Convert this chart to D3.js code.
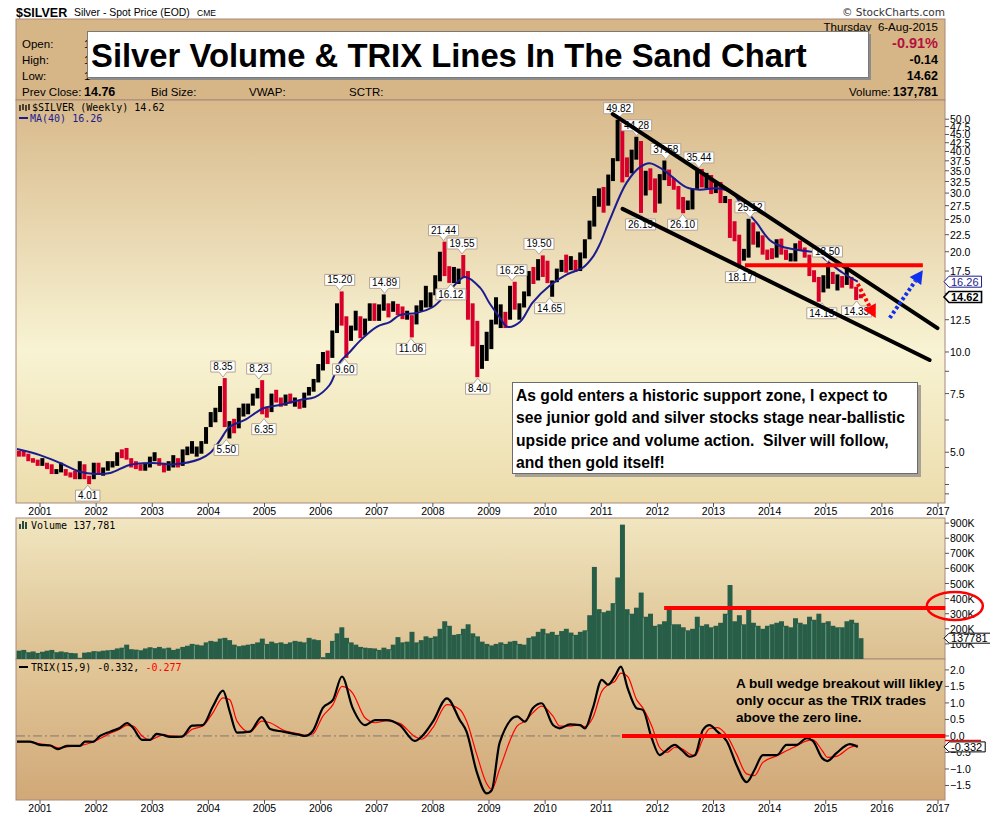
<!DOCTYPE html>
<html>
<head>
<meta charset="utf-8">
<script src="https://cdnjs.cloudflare.com/ajax/libs/d3/7.8.5/d3.min.js"></script>
<style>
body{margin:0;background:#fff;}
svg text{font-family:Arial,"Liberation Sans",sans-serif;}
.mono{font-family:"DejaVu Sans Mono",monospace;font-size:10px;}
</style>
</head>
<body>
<svg></svg>
<script>
var startYear = 2000, startMonth = 8;

var highs = [
  5.05,5.05,4.95,4.80,4.75,
  4.80,4.65,4.60,4.45,4.65,4.45,4.35,4.40,4.70,4.60,4.25,4.65,
  4.65,4.50,4.70,4.70,5.00,5.10,5.15,4.80,4.70,4.60,4.65,4.85,
  5.00,4.80,4.65,4.70,4.90,4.80,5.10,5.20,5.40,5.20,5.40,5.95,
  6.60,6.80,7.90,8.35,6.20,6.30,6.80,7.00,7.00,7.50,7.80,8.23,
  6.85,7.50,7.70,7.30,7.45,7.50,7.30,7.15,7.55,7.85,8.30,9.20,
  10.00,10.10,11.60,14.00,15.20,12.80,12.00,13.30,12.80,12.60,14.00,14.00,
  13.90,14.89,14.00,14.20,13.95,13.70,13.30,12.90,13.80,14.30,15.80,15.10,
  17.00,20.00,21.44,18.10,18.00,17.80,19.55,17.50,14.00,12.40,10.50,11.50,
  12.50,14.60,13.90,13.20,15.80,16.25,14.00,15.20,17.50,18.00,19.00,19.50,
  18.80,16.40,17.80,18.90,19.60,19.40,18.90,19.90,21.80,24.80,29.40,31.00,
  31.30,34.10,38.20,49.82,48.70,38.40,40.50,44.28,43.00,35.00,35.60,33.20,
  34.20,37.58,35.30,33.30,31.50,29.20,28.50,31.00,35.00,35.44,34.50,34.00,
  32.50,32.40,29.40,28.80,24.70,22.50,20.40,25.12,24.50,23.00,22.40,20.30,
  20.50,21.80,21.90,20.30,19.80,21.20,21.60,20.60,19.60,17.60,16.80,17.00,
  18.50,17.40,17.10,16.90,17.80,16.80,15.70,14.90
];
var lows = [
  4.85,4.85,4.70,4.65,4.55,
  4.55,4.45,4.30,4.30,4.35,4.25,4.20,4.15,4.15,4.15,4.01,4.15,
  4.30,4.25,4.40,4.50,4.55,4.80,4.75,4.50,4.45,4.40,4.40,4.50,
  4.70,4.55,4.35,4.40,4.50,4.50,4.55,4.90,4.95,4.85,4.95,5.30,
  5.95,6.15,6.60,5.95,5.50,5.70,5.90,6.40,6.50,6.90,7.25,6.50,
  6.35,6.60,7.05,6.85,6.90,7.00,6.85,6.75,6.80,7.40,7.60,8.10,
  8.80,9.20,9.60,11.40,12.00,9.60,10.80,11.60,11.00,11.20,12.40,12.40,
  12.40,13.30,12.70,13.20,12.90,12.55,12.50,11.06,12.10,13.25,13.60,13.60,
  14.80,16.30,16.90,16.12,16.10,16.00,16.70,12.50,10.40,8.40,8.90,9.40,
  10.20,12.10,11.80,11.80,12.50,13.40,12.50,13.60,14.70,16.00,16.40,16.80,
  16.10,14.65,16.20,17.40,17.30,17.60,17.40,17.50,19.10,21.80,23.80,27.30,
  26.20,27.50,32.60,37.40,32.30,33.50,34.40,37.80,26.15,29.50,30.60,26.20,
  27.90,32.80,31.50,30.70,26.80,26.10,26.70,26.80,30.90,31.20,31.00,29.80,
  30.00,28.00,28.00,22.00,21.50,18.17,18.80,19.20,21.00,20.60,19.60,18.90,
  19.00,19.20,19.60,18.90,18.70,18.70,20.20,19.20,16.90,16.20,14.15,15.10,
  15.50,16.00,15.30,15.60,15.90,15.50,14.33,14.50
];
var closes = [
  4.95,4.90,4.75,4.70,4.60,
  4.60,4.45,4.35,4.38,4.40,4.30,4.25,4.20,4.60,4.20,4.15,4.60,
  4.35,4.40,4.60,4.60,4.95,4.90,4.80,4.60,4.55,4.45,4.55,4.75,
  4.80,4.60,4.40,4.55,4.65,4.55,5.05,5.05,5.10,5.10,5.30,5.90,
  6.30,6.60,7.65,6.00,6.10,5.85,6.60,6.80,6.95,7.30,7.65,6.85,
  6.70,7.40,7.15,6.95,7.10,7.05,7.15,6.85,7.50,7.70,8.20,8.85,
  9.90,9.65,11.55,13.50,12.45,10.85,11.35,12.80,11.55,12.40,13.85,12.90,
  13.45,14.20,13.35,13.45,13.20,12.70,12.90,12.20,13.75,14.10,14.50,14.90,
  16.85,19.85,17.50,16.40,16.90,17.50,17.40,13.65,12.85,9.85,10.15,11.30,
  12.45,13.00,13.10,12.60,15.60,13.60,13.90,14.90,16.60,16.40,18.50,16.90,
  16.15,16.35,17.50,18.65,18.45,18.70,18.00,19.30,21.80,24.60,28.30,30.60,
  27.95,33.95,37.85,48.60,38.40,35.00,40.00,41.60,30.45,34.55,32.60,28.20,
  33.10,34.55,32.45,31.20,28.40,27.45,27.50,31.00,34.60,32.25,33.70,30.00,
  31.80,28.35,28.50,24.00,22.30,19.70,19.70,23.55,21.70,21.90,19.80,19.45,
  19.20,21.30,19.80,19.10,19.40,21.00,20.40,19.40,17.10,16.40,15.60,15.60,
  17.20,16.55,16.85,16.30,16.75,15.60,14.70,14.62
];
// volume, thousands
var volumes = [
  55,60,45,50,40,
  48,55,60,45,50,45,40,38,8,42,45,52,
  50,55,58,60,70,75,95,65,62,58,70,78,
  72,80,70,75,60,68,80,88,100,95,90,110,
  120,115,135,140,125,95,85,90,95,100,110,135,
  100,115,105,110,100,110,120,115,110,140,130,125,
  12,40,120,170,210,140,110,95,80,75,72,70,
  60,75,65,95,145,110,115,180,110,125,150,140,
  150,200,250,220,160,165,200,230,170,150,115,100,
  90,100,110,100,115,120,100,95,140,150,180,200,
  170,180,160,185,200,175,160,180,190,290,610,330,
  310,320,370,540,890,330,300,340,440,280,300,220,
  230,250,330,230,230,210,190,200,280,220,230,210,
  220,240,300,490,250,290,230,330,240,220,200,220,
  230,240,250,220,210,270,240,230,280,260,300,240,
  250,220,210,210,250,260,240,138
];

var maYears = [2000.59,2001.00,2001.36,2001.71,2002.00,2002.25,2002.60,2003.00,2003.40,2003.85,
  2004.03,2004.21,2004.38,2004.65,2004.99,2005.27,2005.63,2005.90,2006.16,2006.34,2006.52,2006.70,
  2007.00,2007.23,2007.41,2007.71,2008.00,2008.30,2008.57,2008.84,2009.01,2009.19,2009.33,2009.55,
  2009.78,2010.08,2010.39,2010.67,2010.85,2010.97,2011.15,2011.45,2011.69,2011.86,2012.10,2012.27,
  2012.52,2012.75,2013.06,2013.34,2013.52,2013.77,2014.00,2014.23,2014.54,2014.84,2015.07,2015.30,2015.57];
var maValues = [5.11,4.90,4.64,4.37,4.30,4.33,4.58,4.64,4.60,4.77,
  4.97,5.44,5.96,6.25,6.79,6.93,7.18,7.32,7.96,9.3,10.0,10.8,
  11.9,12.3,12.9,13.1,13.65,15.3,16.8,15.6,14.0,12.7,11.9,12.3,
  14.1,15.8,17.1,17.9,19.3,21.0,24.9,32.2,35.9,36.9,35.3,33.5,
  31.2,30.7,31.0,30.0,27.3,24.4,21.7,20.7,20.2,19.8,18.5,17.3,16.26];

var trixYears = [2000.59,2000.82,2001.00,2001.18,2001.32,2001.48,2001.71,2001.80,2001.94,2002.07,
  2002.25,2002.42,2002.55,2002.66,2002.82,2002.96,2003.08,2003.19,2003.32,2003.53,
  2003.71,2003.90,2004.08,2004.26,2004.38,2004.51,2004.74,2004.95,2005.10,2005.33,
  2005.63,2005.72,2005.86,2006.04,2006.22,2006.38,2006.57,2006.79,2006.97,2007.18,
  2007.41,2007.68,2007.80,2008.00,2008.25,2008.48,2008.60,2008.78,2008.96,2009.05,
  2009.19,2009.50,2009.64,2009.78,2009.94,2010.14,2010.26,2010.44,2010.62,2010.71,
  2010.85,2011.01,2011.12,2011.24,2011.35,2011.47,2011.63,2011.74,2011.90,2012.04,
  2012.17,2012.31,2012.43,2012.58,2012.67,2012.81,2012.93,2013.07,2013.24,2013.41,
  2013.59,2013.73,2013.88,2014.13,2014.30,2014.48,2014.66,2014.77,2014.94,2015.03,
  2015.19,2015.43,2015.57];
var trixValues = [-0.17,-0.17,-0.27,-0.29,-0.40,-0.30,-0.30,-0.17,-0.18,0.00,
  0.13,0.24,0.39,0.24,-0.12,-0.12,0.06,0.03,-0.03,-0.02,
  0.31,0.33,0.89,1.37,0.74,0.10,0.13,0.57,0.21,0.13,
  0.03,0.00,0.15,0.85,1.09,1.80,0.85,0.33,0.48,0.48,
  0.33,-0.15,-0.02,0.43,1.14,0.48,0.13,-1.08,-1.74,-1.64,
  -0.20,0.59,0.43,0.84,0.99,0.33,0.23,0.35,0.33,0.23,
  0.84,1.70,1.55,1.80,2.10,1.45,0.84,0.79,-0.07,-0.58,
  -0.42,-0.27,-0.42,-0.63,-0.58,0.18,0.33,0.13,-0.17,-0.88,
  -1.40,-1.03,-0.58,-0.58,-0.27,-0.27,-0.07,-0.15,-0.68,-0.76,
  -0.52,-0.25,-0.332];
var signalValues = [-0.17,-0.17,-0.24,-0.28,-0.36,-0.33,-0.30,-0.26,-0.19,-0.08,
  0.08,0.20,0.32,0.30,0.00,-0.12,-0.04,0.04,0.00,-0.02,
  0.20,0.30,0.70,1.15,1.10,0.45,0.12,0.45,0.40,0.18,
  0.06,0.02,0.06,0.60,0.95,1.50,1.30,0.55,0.40,0.46,
  0.38,-0.02,-0.10,0.25,0.95,0.80,0.45,-0.55,-1.45,-1.62,
  -1.00,0.30,0.45,0.70,0.90,0.60,0.30,0.30,0.34,0.28,
  0.55,1.35,1.55,1.65,1.90,1.80,1.10,0.85,0.30,-0.35,
  -0.50,-0.35,-0.38,-0.55,-0.60,-0.10,0.22,0.25,0.00,-0.55,
  -1.15,-1.20,-0.80,-0.60,-0.45,-0.30,-0.15,-0.12,-0.45,-0.65,
  -0.62,-0.35,-0.277];

var yearTicks = d3.range(2001, 2018);
var priceTicks = [50,47.5,45,42.5,40,37.5,35,32.5,30,27.5,25,22.5,20,17.5,12.5,10,7.5,5];
var priceMinor = [15,8.75,6.25,4.5,4,3.75];
var volTicks = [100,200,300,400,500,600,700,800,900];
var trixTicks = [-1.5,-1,-0.5,0,0.5,1,1.5,2];

// peak / trough callouts: year, value, above the bar?
var callouts = [
  [2001.85,4.01,0],[2004.26,8.35,1],[2004.32,5.50,0],[2004.90,8.23,1],[2004.99,6.35,0],
  [2006.34,15.20,1],[2006.43,9.60,0],[2007.14,14.89,1],[2007.61,11.06,0],[2008.19,21.44,1],
  [2008.52,19.55,1],[2008.32,16.12,0],[2008.80,8.40,0],[2009.41,16.25,1],[2009.89,19.50,1],
  [2010.08,14.65,0],[2011.31,49.82,1],[2011.63,44.28,1],[2011.70,26.15,0],[2012.15,37.58,1],
  [2012.45,26.10,0],[2012.74,35.44,1],[2013.65,25.12,1],[2013.48,18.17,0],[2015.03,18.50,1],
  [2014.93,14.15,0],[2015.55,14.33,0]
];

// hand drawn annotations, in chart units (year, value)
var wedgeUpper = [[2011.205,51.8],[2016.99,11.8]];
var wedgeLower = [[2011.38,26.9],[2016.85,9.46]];
var supportLine = [[2013.56,18.2],[2016.73,18.2]];
var redArrow = [[2015.57,16.0],[2015.89,12.65]];
var blueArrow = [[2016.14,12.65],[2016.73,17.6]];
var volLine = [[2012.12,338],[2017.13,338]];
var volCircle = [2017.30,351];
var trixLine = [[2011.37,0],[2017.13,0]];

var noteLines = ['As gold enters a historic support zone, I expect to',
  'see junior gold and silver stocks stage near-ballistic',
  'upside price and volume action.  Silver will follow,',
  'and then gold itself!'];
var trixNote = ['A bull wedge breakout will likley','only occur as the TRIX trades','above the zero line.'];

var width = 990, height = 817;
var L = 16, R = 945;
var priceTop = 100, priceBottom = 503, volTop = 518, volBottom = 659, trixBottom = 800;
var frame = '#a9897d';

var svg = d3.select('svg').attr('width', width).attr('height', height);
var defs = svg.append('defs');

function vgrad(id, stops){
  var g = defs.append('linearGradient').attr('id', id)
    .attr('x1',0).attr('y1',0).attr('x2',0).attr('y2',1);
  stops.forEach(function(s){
    g.append('stop').attr('offset', s[0]).attr('stop-color', s[1]);
  });
}
vgrad('gPrice', [[0,'#d8b98b'],[0.62,'#f8f3d3'],[1,'#ecdcac']]);
vgrad('gVol', [[0,'#f1e6c0'],[1,'#dcc091']]);
vgrad('gTrix', [[0,'#e2c899'],[1,'#d1a878']]);

var xs = d3.scaleLinear().domain([2001 - 24/56.125, 2017 + 7/56.125]).range([L, R]);
var ys = d3.scaleLog().domain([3.52, 57.1]).range([priceBottom, priceTop]);
var yv = d3.scaleLinear().domain([0, 934]).range([volBottom, volTop]);
var yt = d3.scaleLinear().domain([-1.94, 2.33]).range([trixBottom, volBottom]);

var monthT = highs.map(function(d, i){ return startYear + (startMonth - 1 + i + 0.5) / 12; });
var step = 1 / 12;

function fitWidth(sel, target){
  var w = sel.node().getComputedTextLength();
  if (w > 0) sel.attr('font-size', parseFloat(sel.attr('font-size')) * target / w);
}

// ---------- header ----------
svg.append('text').attr('x', 16).attr('y', 17).attr('font-size', 12.5).attr('font-weight', 'bold').text('$SILVER');
var sub = svg.append('text').attr('x', 74).attr('y', 16).attr('font-size', 11).text('Silver - Spot Price (EOD)');
fitWidth(sub, 116);
svg.append('text').attr('x', 197).attr('y', 16).attr('font-size', 8.5).text('CME');
svg.append('text').attr('x', 945).attr('y', 16).attr('font-size', 10.5).attr('fill', '#333')
  .attr('text-anchor', 'end').style('font-family', '"DejaVu Sans",sans-serif').text('\u00a9 StockCharts.com');

svg.append('rect').attr('x', L).attr('y', 19).attr('width', R - L).attr('height', priceTop - 19)
  .attr('fill', '#d6b587').attr('stroke', frame);

var rowY = [48, 64, 80, 96];
var hdr = svg.append('g').attr('font-size', 11.5);
// the title box hides most of the first three rows, only the leading digit shows
[['Open:', '1'], ['High:', '1'], ['Low:', '1'], ['Prev Close:', '14.76']].forEach(function(r, i){
  hdr.append('text').attr('x', 22).attr('y', rowY[i]).text(r[0]);
  hdr.append('text').attr('x', 84).attr('y', rowY[i]).attr('font-weight', i == 3 ? 'bold' : 'normal')
    .attr('font-size', i == 3 ? 12.5 : 11.5).text(r[1]);
});
[[151, 'Bid Size:'], [249, 'VWAP:'], [349, 'SCTR:']].forEach(function(c){
  hdr.append('text').attr('x', c[0]).attr('y', rowY[3]).text(c[1]);
});
hdr.append('text').attr('x', 849).attr('y', rowY[3]).text('Volume:');
hdr.append('text').attr('x', 938).attr('y', 31).attr('text-anchor', 'end').text('Thursday  6-Aug-2015').style('white-space', 'pre');
hdr.append('text').attr('x', 938).attr('y', 48).attr('text-anchor', 'end').attr('font-size', 14.5)
  .attr('font-weight', 'bold').attr('fill', '#b2123e').text('-0.91%');
hdr.append('text').attr('x', 938).attr('y', 64).attr('text-anchor', 'end').attr('font-size', 12.5).attr('font-weight', 'bold').text('-0.14');
hdr.append('text').attr('x', 938).attr('y', 80).attr('text-anchor', 'end').attr('font-size', 12.5).attr('font-weight', 'bold').text('14.62');
hdr.append('text').attr('x', 938).attr('y', 96).attr('text-anchor', 'end').attr('font-size', 12.5).attr('font-weight', 'bold').text('137,781');

// title box
svg.append('rect').attr('x', 90).attr('y', 34).attr('width', 781).attr('height', 46).attr('fill', '#8c8c8c');
svg.append('rect').attr('x', 87.5).attr('y', 31.5).attr('width', 781).attr('height', 46)
  .attr('fill', '#fff').attr('stroke', '#7a7a7a');
var title = svg.append('text').attr('x', 91).attr('y', 67).attr('font-size', 32.5).attr('font-weight', 'bold')
  .text('Silver Volume & TRIX Lines In The Sand Chart');
fitWidth(title, 716);

// ---------- panels ----------
svg.append('rect').attr('x', L).attr('y', priceTop).attr('width', R - L).attr('height', priceBottom - priceTop)
  .attr('fill', 'url(#gPrice)').attr('stroke', frame);
svg.append('rect').attr('x', L).attr('y', volTop).attr('width', R - L).attr('height', volBottom - volTop)
  .attr('fill', 'url(#gVol)').attr('stroke', frame);
svg.append('rect').attr('x', L).attr('y', volBottom).attr('width', R - L).attr('height', trixBottom - volBottom)
  .attr('fill', 'url(#gTrix)').attr('stroke', frame);

['cPrice', 'cVol', 'cTrix'].forEach(function(id, i){
  var t = [priceTop, volTop, volBottom][i], b = [priceBottom, volBottom, trixBottom][i];
  defs.append('clipPath').attr('id', id).append('rect').attr('x', L).attr('y', t).attr('width', R - L).attr('height', b - t);
});

// year axes
function yearAxis(y){
  var g = svg.append('g');
  yearTicks.forEach(function(yr){
    g.append('line').attr('x1', xs(yr)).attr('x2', xs(yr)).attr('y1', y).attr('y2', y + 4).attr('stroke', '#555');
    g.append('text').attr('x', xs(yr)).attr('y', y + 12).attr('text-anchor', 'middle')
      .attr('font-size', 10.5).text(yr);
  });
}
yearAxis(priceBottom);
yearAxis(trixBottom);

// right axes
function rightAxis(scale, ticks, fmt){
  var g = svg.append('g');
  ticks.forEach(function(t){
    var y = scale(t);
    g.append('line').attr('x1', R).attr('x2', R + 4).attr('y1', y).attr('y2', y).attr('stroke', '#555');
    if (fmt) g.append('text').attr('x', R + 5).attr('y', y + 4).attr('font-size', 10.5).text(fmt(t));
  });
}
rightAxis(ys, priceTicks, d3.format('.1f'));
rightAxis(ys, priceMinor, null);
rightAxis(yv, volTicks, function(d){ return d + 'K'; });
rightAxis(yt, trixTicks, d3.format('.1f'));

// ---------- price ----------
var pg = svg.append('g').attr('clip-path', 'url(#cPrice)');
pg.selectAll('rect.bar').data(highs).enter().append('rect').attr('class', 'bar')
  .attr('x', function(d, i){ return xs(monthT[i]) - 2; })
  .attr('width', 4)
  .attr('y', function(d){ return ys(d); })
  .attr('height', function(d, i){ return Math.max(1, ys(lows[i]) - ys(d)); })
  .attr('fill', function(d, i){
    var prev = i ? closes[i - 1] : 5.0;
    return closes[i] >= prev ? '#000' : '#d8002a';
  });

var maLine = d3.line().x(function(d, i){ return xs(maYears[i]); }).y(function(d){ return ys(d); })
  .curve(d3.curveCatmullRom.alpha(0.5));
pg.append('path').attr('d', maLine(maValues)).attr('fill', 'none').attr('stroke', '#1c1c8e').attr('stroke-width', 2);

// callouts
callouts.forEach(function(c){
  var x = xs(c[0]), y = ys(c[1]), up = c[2];
  var label = c[1].toFixed(2);
  var g = svg.append('g');
  var t = g.append('text').attr('font-size', 10).attr('text-anchor', 'middle').text(label);
  var w = t.node().getComputedTextLength() + 5, h = 11;
  var tip = up ? y - 1 : y + 1;
  var edge = up ? tip - 5 : tip + 5;
  var top = up ? edge - h : edge;
  var bx = x - w / 2;
  var p = up
    ? ['M', bx, top, 'H', bx + w, 'V', edge, 'H', x + 4, 'L', x, tip, 'L', x - 4, edge, 'H', bx, 'Z']
    : ['M', bx, top, 'H', x - 4, 'L', x, tip, 'L', x + 4, top, 'H', bx + w, 'V', top + h, 'H', bx, 'Z'];
  g.insert('path', 'text').attr('d', p.join(' ')).attr('fill', '#fff').attr('stroke', '#b4a494');
  t.attr('x', x).attr('y', top + 9);
});

// wedge + annotations
var ann = svg.append('g');
function dataLine(pts, yscale){
  return d3.line().x(function(d){ return xs(d[0]); }).y(function(d){ return yscale(d[1]); })(pts);
}
ann.append('path').attr('d', dataLine(wedgeUpper, ys)).attr('stroke', '#000').attr('stroke-width', 4).attr('stroke-linecap', 'round');
ann.append('path').attr('d', dataLine(wedgeLower, ys)).attr('stroke', '#000').attr('stroke-width', 4).attr('stroke-linecap', 'round');
ann.append('path').attr('d', dataLine(supportLine, ys)).attr('stroke', '#ff0000').attr('stroke-width', 4);

function dottedArrow(pts, color){
  var x1 = xs(pts[0][0]), y1 = ys(pts[0][1]), x2 = xs(pts[1][0]), y2 = ys(pts[1][1]);
  var dx = x2 - x1, dy = y2 - y1, len = Math.sqrt(dx * dx + dy * dy);
  var ux = dx / len, uy = dy / len, hl = 13, hw = 7;
  var bxp = x2 - ux * hl, byp = y2 - uy * hl;
  ann.append('line').attr('x1', x1).attr('y1', y1).attr('x2', bxp).attr('y2', byp)
    .attr('stroke', color).attr('stroke-width', 4).attr('stroke-dasharray', '3,2.5');
  ann.append('path').attr('d', 'M' + x2 + ',' + y2 + 'L' + (bxp - uy * hw) + ',' + (byp + ux * hw) +
    'L' + (bxp + uy * hw) + ',' + (byp - ux * hw) + 'Z').attr('fill', color);
}
dottedArrow(redArrow, '#ff0000');
dottedArrow(blueArrow, '#1030f0');

// note box
var nb = svg.append('g');
nb.append('rect').attr('x', 515).attr('y', 385).attr('width', 406).attr('height', 92).attr('fill', '#a8a294');
nb.append('rect').attr('x', 512.5).attr('y', 382.5).attr('width', 405).attr('height', 91)
  .attr('fill', '#fff').attr('stroke', '#6c6c6c');
var noteT = noteLines.map(function(s, i){
  return nb.append('text').attr('x', 516).attr('y', 401 + i * 22.3).attr('font-size', 15).attr('font-weight', 'bold')
    .style('white-space', 'pre').text(s);
});
var nfs = 15 * 372 / noteT[0].node().getComputedTextLength();
noteT.forEach(function(t){ t.attr('font-size', nfs); });

// legend price
svg.append('text').attr('class', 'mono').attr('x', 32).attr('y', 111).text('$SILVER (Weekly) 14.62');
var ic = svg.append('g').attr('stroke', '#000').attr('stroke-width', 1.3);
[20, 23, 26, 29].forEach(function(x, i){
  ic.append('line').attr('x1', x).attr('x2', x).attr('y1', i % 2 ? 104 : 105).attr('y2', i % 2 ? 110 : 111);
});
svg.append('line').attr('x1', 19).attr('x2', 28).attr('y1', 118).attr('y2', 118).attr('stroke', '#1c1c8e').attr('stroke-width', 2);
svg.append('text').attr('class', 'mono').attr('x', 30).attr('y', 122).attr('fill', '#1c1c8e').text('MA(40) 16.26');

// right-axis value badges
function badge(y, label, opts){
  var g = svg.append('g');
  var t = g.append('text').attr('x', R + 6).attr('y', y + 4).attr('font-size', 11)
    .attr('font-weight', opts.bold ? 'bold' : 'normal').attr('fill', opts.color).text(label);
  var w = t.node().getComputedTextLength() + 5, h = opts.h || 11;
  g.insert('path', 'text').attr('d', ['M', R - 1, y, 'L', R + 4, y - h / 2, 'H', R + 4 + w, 'V', y + h / 2, 'H', R + 4, 'Z'].join(' '))
    .attr('fill', '#fff').attr('stroke', opts.stroke).attr('stroke-width', opts.bold ? 1.6 : 1);
}
badge(ys(16.26), '16.26', {color: '#1c1c8e', stroke: '#1c1c8e'});
badge(ys(14.62), '14.62', {color: '#000', stroke: '#000', bold: true});

// ---------- volume ----------
var vg = svg.append('g').attr('clip-path', 'url(#cVol)');
var bw = xs(2001 + step) - xs(2001);
vg.selectAll('rect.vol').data(volumes).enter().append('rect').attr('class', 'vol')
  .attr('x', function(d, i){ return xs(monthT[i] - step / 2); })
  .attr('width', bw + 0.3)
  .attr('y', function(d){ return yv(d); })
  .attr('height', function(d){ return volBottom - yv(d); })
  .attr('fill', '#285e48');
// quarter separators showing through the bars
d3.range(2000.75, 2015.6, 0.25).forEach(function(q){
  var i = Math.round((q - startYear - (startMonth - 1) / 12) * 12);
  var v = Math.min(volumes[i - 1] || 0, volumes[i] || 0);
  if (v > 0) vg.append('line').attr('x1', xs(q)).attr('x2', xs(q)).attr('y1', volBottom).attr('y2', yv(v) + 1)
    .attr('stroke', '#6a9c82').attr('stroke-width', 1);
});
svg.append('path').attr('d', dataLine(volLine, yv)).attr('stroke', '#ff0000').attr('stroke-width', 4);
svg.append('ellipse').attr('cx', xs(volCircle[0])).attr('cy', yv(volCircle[1])).attr('rx', 28).attr('ry', 14)
  .attr('fill', 'none').attr('stroke', '#ff0000').attr('stroke-width', 2.5);

var vic = svg.append('g').attr('fill', '#2c4a3c');
[[19, 524, 2, 5], [22, 521, 2, 8], [25, 522, 2, 7]].forEach(function(r){
  vic.append('rect').attr('x', r[0]).attr('y', r[1]).attr('width', r[2]).attr('height', r[3]);
});
svg.append('text').attr('class', 'mono').attr('x', 31).attr('y', 529).text('Volume 137,781');
badge(yv(137.781), '137781', {color: '#000', stroke: '#000', h: 10});

// ---------- TRIX ----------
var tg = svg.append('g').attr('clip-path', 'url(#cTrix)');
tg.append('line').attr('x1', L).attr('x2', R).attr('y1', yt(0)).attr('y2', yt(0))
  .attr('stroke', '#7a7a7a').attr('stroke-dasharray', '9,3,2,3');
var trixLineGen = d3.line().x(function(d, i){ return xs(trixYears[i]); }).y(function(d){ return yt(d); })
  .curve(d3.curveMonotoneX);
tg.append('path').attr('d', trixLineGen(signalValues)).attr('fill', 'none').attr('stroke', '#ff0000').attr('stroke-width', 1.2);
tg.append('path').attr('d', trixLineGen(trixValues)).attr('fill', 'none').attr('stroke', '#000').attr('stroke-width', 2.2);
svg.append('path').attr('d', dataLine(trixLine, yt)).attr('stroke', '#ff0000').attr('stroke-width', 4);

svg.append('line').attr('x1', 19).attr('x2', 28).attr('y1', 667).attr('y2', 667).attr('stroke', '#000').attr('stroke-width', 2);
var tl = svg.append('text').attr('class', 'mono').attr('x', 31).attr('y', 671);
tl.append('tspan').text('TRIX(15,9) -0.332, ');
tl.append('tspan').attr('fill', '#ff0000').text('-0.277');

svg.append('line').attr('x1', R).attr('x2', R + 36).attr('y1', yt(-0.14)).attr('y2', yt(-0.14)).attr('stroke', '#ff0000').attr('stroke-width', 1.5);
badge(yt(-0.332), '-0.332', {color: '#000', stroke: '#000', h: 10});

var trT = trixNote.map(function(s, i){
  return svg.append('text').attr('x', 736).attr('y', 688 + i * 17).attr('font-size', 14).attr('font-weight', 'bold').text(s);
});
var tfs = 14 * 207 / trT[0].node().getComputedTextLength();
trT.forEach(function(t){ t.attr('font-size', tfs); });
</script>
</body>
</html>
